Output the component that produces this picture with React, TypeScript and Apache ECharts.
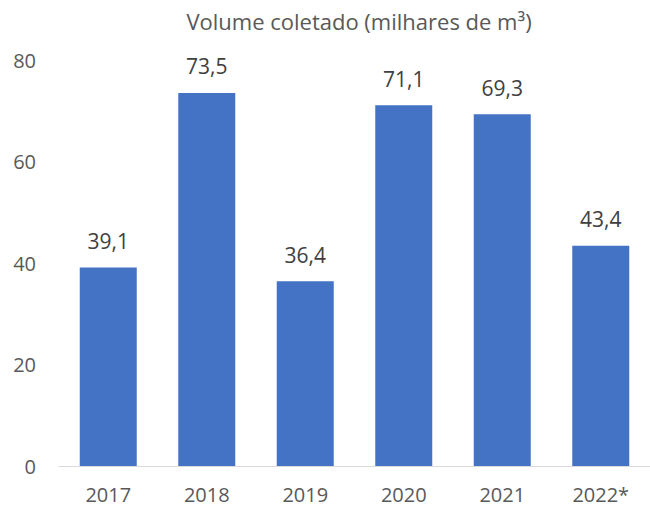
import React, { useEffect, useRef } from "react";
import * as echarts from "echarts";

const titleText = "Volume coletado (milhares de m³)";
const categories = ["2017", "2018", "2019", "2020", "2021", "2022*"];
const volumes = [39.1, 73.5, 36.4, 71.1, 69.3, 43.4];
const yTicks = { min: 0, max: 80, interval: 20 };

const FONT = "'Open Sans', 'Noto Sans', sans-serif";

export default function App() {
  const ref = useRef<HTMLDivElement>(null);
  useEffect(() => {
    if (!ref.current) return;
    const chart = echarts.init(ref.current, null, { renderer: "svg" });
    chart.setOption({
      animation: false,
      backgroundColor: "#ffffff",
      title: {
        text: titleText,
        left: 354,
        textAlign: "center",
        top: 5,
        textStyle: { fontFamily: FONT, fontSize: 22, fontWeight: "normal", color: "#595959" },
      },
      grid: { left: 59, right: -6, top: 60, bottom: 42, containLabel: false },
      xAxis: {
        type: "category",
        data: categories,
        axisLine: { show: true, lineStyle: { color: "#d9d9d9", width: 1 } },
        axisTick: { show: false },
        axisLabel: { fontFamily: FONT, fontSize: 20, lineHeight: 20, color: "#595959", margin: 18 },
      },
      yAxis: {
        type: "value",
        min: yTicks.min,
        max: yTicks.max,
        interval: yTicks.interval,
        axisLine: { show: false },
        axisTick: { show: false },
        splitLine: { show: false },
        axisLabel: { fontFamily: FONT, fontSize: 20, color: "#595959", margin: 23 },
      },
      series: [
        {
          type: "bar",
          data: volumes,
          barWidth: 57,
          itemStyle: { color: "#4472c4" },
          label: {
            show: true,
            position: "top",
            distance: 16,
            fontFamily: FONT,
            fontSize: 21,
            color: "#404040",
            formatter: (p: any) => String(p.value).replace(".", ","),
          },
        },
      ],
    });
    return () => chart.dispose();
  }, []);
  return (
    <div
      ref={ref}
      style={{ position: "fixed", left: 0, top: 0, width: 650, height: 508 }}
    />
  );
}
